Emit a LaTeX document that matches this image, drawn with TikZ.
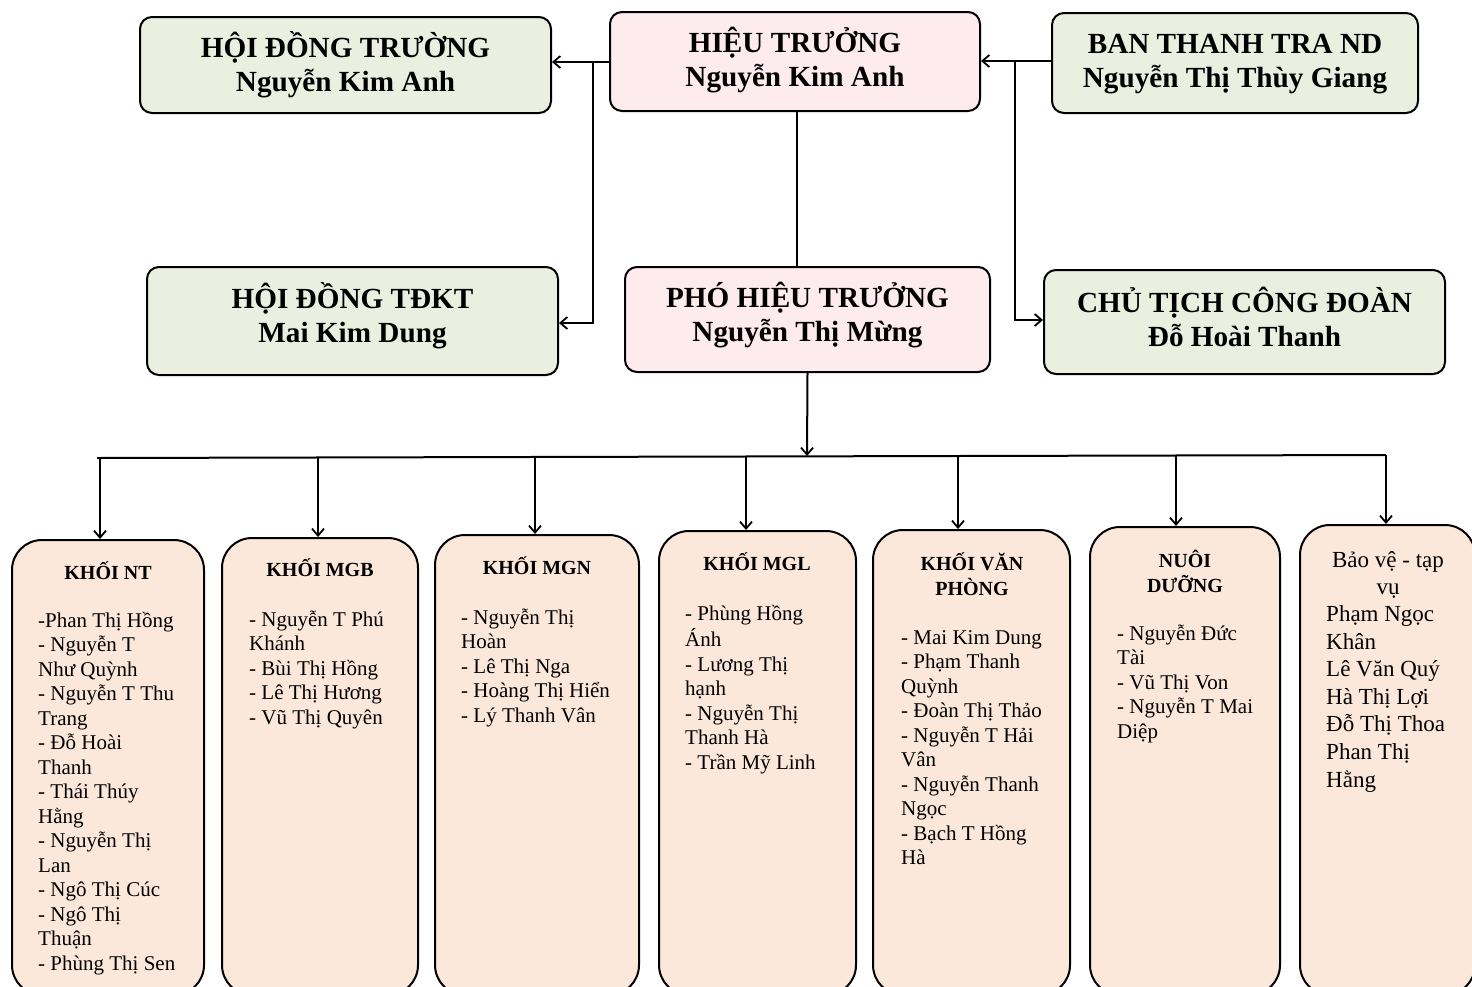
\documentclass[tikz,border=0pt]{standalone}
\usepackage{fontspec}
\setmainfont{Liberation Serif}
\usetikzlibrary{arrows.meta}
\definecolor{gbox}{RGB}{235,239,224}
\definecolor{pbox}{RGB}{253,235,238}
\definecolor{obox}{RGB}{252,232,218}
\tikzset{
 topbox/.style={draw=black, line width=2pt, rounded corners=12pt, inner sep=0pt},
 greenbox/.style={topbox, fill=gbox},
 pinkbox/.style={topbox, fill=pbox},
 toptext/.style={align=center, inner sep=0pt, font=\fontsize{29.2}{34}\selectfont\bfseries},
 unitbox/.style={draw=black, line width=2pt, rounded corners=30pt, fill=obox, inner sep=0pt},
 conn/.style={line width=2pt},
 arr/.style={conn, -{Straight Barb[length=7pt,width=12pt,line width=1.8pt]}},
 head/.style={anchor=north, align=center, inner sep=0pt, font=\fontsize{20}{24}\selectfont\bfseries},
 items/.style={anchor=north west, align=left, inner sep=0pt, font=\fontsize{21}{24.5}\selectfont},
 bvitems/.style={anchor=north west, align=left, inner sep=0pt, font=\fontsize{23}{27.6}\selectfont},
}
\begin{document}
\begin{tikzpicture}[x=1pt,y=-1pt]
\clip (0,0) rectangle (1472,986);
\fill[white] (0,0) rectangle (1472,986);

% top level boxes
\node[greenbox, minimum width=411pt, minimum height=96pt] (hdt) at (345.5,65) {};
\node[pinkbox, minimum width=370pt, minimum height=99pt] (ht) at (795,61.5) {};
\node[greenbox, minimum width=366pt, minimum height=100pt] (btt) at (1235,63) {};
\node[greenbox, minimum width=411pt, minimum height=108pt] (tdkt) at (352.5,321) {};
\node[pinkbox, minimum width=365pt, minimum height=105pt] (pht) at (807.5,319.5) {};
\node[greenbox, minimum width=401pt, minimum height=104pt] (ctcd) at (1244.5,322) {};

\node[toptext] (hdt-t) at ([yshift=0pt]hdt.center) {HỘI ĐỒNG TRƯỜNG\\Nguyễn Kim Anh};
\node[toptext] (ht-t) at ([yshift=1pt]ht.center) {HIỆU TRƯỞNG\\Nguyễn Kim Anh};
\node[toptext] (btt-t) at ([yshift=-1pt]btt.center) {BAN THANH TRA ND\\Nguyễn Thị Thùy Giang};
\node[toptext] (tdkt-t) at ([yshift=5.5pt]tdkt.center) {HỘI ĐỒNG TĐKT\\Mai Kim Dung};
\node[toptext] (pht-t) at ([yshift=4pt]pht.center) {PHÓ HIỆU TRƯỞNG\\Nguyễn Thị Mừng};
\node[toptext] (ctcd-t) at ([yshift=5.5pt]ctcd.center) {CHỦ TỊCH CÔNG ĐOÀN\\Đỗ Hoài Thanh};

% connectors among top boxes
\coordinate (j1) at (593,62);
\coordinate (j2) at (1015,61);
\draw[arr] (ht.west |- j1) -- (hdt.east |- j1);
\draw[arr] (j1) -- (593,323) -- (tdkt.east |- 0,323);
\draw[arr] (btt.west |- j2) -- (ht.east |- j2);
\draw[arr] (j2) -- (1015,320) -- (ctcd.west |- 0,320);
\draw[conn] (797,111) -- (797,267);

% bus
\coordinate (busL) at (97,458);
\coordinate (busR) at (1386,455);
\draw[conn] (busL) -- (busR);
\draw[arr] (pht.south) -- (807,456);

% bottom boxes
\node[unitbox, minimum width=192pt, minimum height=455pt] (nt) at (108,767.5) {};
\node[unitbox, minimum width=196pt, minimum height=457pt] (mgb) at (320,766.5) {};
\node[unitbox, minimum width=204pt, minimum height=460pt] (mgn) at (537,765) {};
\node[unitbox, minimum width=197pt, minimum height=464pt] (mgl) at (757.5,763) {};
\node[unitbox, minimum width=197pt, minimum height=465pt] (vp) at (971.5,762.5) {};
\node[unitbox, minimum width=190pt, minimum height=468pt] (nd) at (1185,761) {};
\node[unitbox, minimum width=175pt, minimum height=470pt] (bv) at (1387.5,760) {};

% drops
\foreach \x/\y/\b in {100/458/nt,318/457.5/mgb,535/457/mgn,746/456.5/mgl,958/456/vp,1176/455.5/nd,1386/455/bv}{
  \draw[arr] (\x,\y) -- (\x,\y |- \b.north);
}

% headers
\node[head] (hnt) at (108,561) {\strut KHỐI NT};
\node[head] (hmgb) at (320,558) {\strut KHỐI MGB};
\node[head] (hmgn) at (537,556) {\strut KHỐI MGN};
\node[head] (hmgl) at (757,552) {\strut KHỐI MGL};
\node[head] (hvp) at (972,552) {\strut KHỐI VĂN\\PHÒNG};
\node[head] (hnd) at (1185,549.5) {\strut NUÔI\\DƯỠNG};
\node[head, font=\fontsize{23}{27}\selectfont] (hbv) at (1388,548) {\strut Bảo vệ - tạp\\vụ};

% items
\node[items] (int) at (38,610) {\strut -Phan Thị Hồng\\- Nguyễn T\\Như Quỳnh\\- Nguyễn T Thu\\Trang\\- Đỗ Hoài\\Thanh\\- Thái Thúy\\Hằng\\- Nguyễn Thị\\Lan\\- Ngô Thị Cúc\\- Ngô Thị\\Thuận\\- Phùng Thị Sen};
\node[items] (imgb) at (249,609) {\strut - Nguyễn T Phú\\Khánh\\- Bùi Thị Hồng\\- Lê Thị Hương\\- Vũ Thị Quyên};
\node[items] (imgn) at (461,607) {\strut - Nguyễn Thị\\Hoàn\\- Lê Thị Nga\\- Hoàng Thị Hiển\\- Lý Thanh Vân};
\node[items] (imgl) at (685,603) {\strut - Phùng Hồng\\Ánh\\- Lương Thị\\hạnh\\- Nguyễn Thị\\Thanh Hà\\- Trần Mỹ Linh};
\node[items] (ivp) at (901,627) {\strut - Mai Kim Dung\\- Phạm Thanh\\Quỳnh\\- Đoàn Thị Thảo\\- Nguyễn T Hải\\Vân\\- Nguyễn Thanh\\Ngọc\\- Bạch T Hồng\\Hà};
\node[items] (ind) at (1117,623) {\strut - Nguyễn Đức\\Tài\\- Vũ Thị Von\\- Nguyễn T Mai\\Diệp};
\node[bvitems] (ibv) at (1326,602) {\strut Phạm Ngọc\\Khân\\Lê Văn Quý\\Hà Thị Lợi\\Đỗ Thị Thoa\\Phan Thị\\Hằng};
\end{tikzpicture}
\end{document}
